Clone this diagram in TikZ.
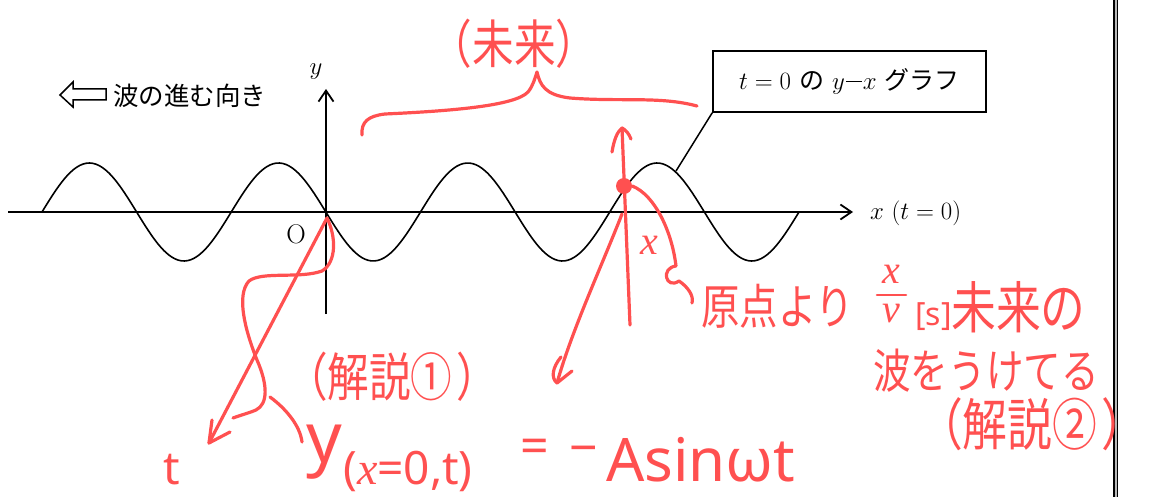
\documentclass[tikz,border=0pt]{standalone}
\usepackage{fontspec}
\newfontfamily\jpfont{Noto Sans CJK JP}
\newfontfamily\jpnarrow{Noto Sans CJK JP}[FakeStretch=0.8]
\newfontfamily\handfont{Noto Sans}
\newfontfamily\serifx{Liberation Serif}
\usetikzlibrary{arrows.meta}
\definecolor{pen}{RGB}{255,80,80}
\newcommand\fs[1]{\fontsize{#1}{#1}\selectfont}
\newcommand\hx{{\serifx\itshape x}}
\begin{document}
\begin{tikzpicture}[x=1pt,y=-1pt,
  axis/.style={line width=1.8pt,-{Straight Barb[length=11pt,width=15pt]}},
  wave/.style={line width=1.6pt},
  ink/.style={pen,line width=3.2pt,line cap=round,line join=round},
  inktext/.style={pen,inner sep=0pt},
  lbl/.style={inner sep=0pt}]
\useasboundingbox (0,0) rectangle (1151,497);
% axes
\coordinate (xs) at (8,212);
\coordinate (xe) at (853,212);
\coordinate (ys) at (326,314);
\coordinate (ye) at (326,89);
\draw[axis] (xs) -- (xe);
\draw[axis] (ys) -- (ye);
\node[lbl,anchor=west,font=\fs{25}] (xl) at (870,213) {$x\ (t=0)$};
\node[lbl,font=\fs{30}] (yl) at (316,72) {$y$};
\node[lbl,font=\fs{27}] (O) at (296,234) {O};
% wave
\draw[wave] plot[domain=42:799,samples=240,smooth] (\x,{212-49*sin(1.90225*(\x-42))});
% legend
\draw[line width=1.5pt] (60,95) -- (73,82) -- (73,89) -- (106,89) -- (106,100) -- (73,100) -- (73,107) -- cycle;
\node[lbl,anchor=west,font=\jpfont\fs{25.5}] (dir) at (113,96) {波の進む向き};
% box
\node[draw,line width=1.6pt,minimum width=273pt,minimum height=61pt,font=\fs{29}] (box) at (849.5,81.5)
  {$t=0$\hspace{8pt}{\jpfont\fs{25}の}\hspace{8pt}$y$\hspace{1pt}\raisebox{0.25em}{\rule{16pt}{1.1pt}}\hspace{1pt}$x$\hspace{8pt}{\jpfont\fs{25}グラフ}};
\coordinate (cw) at (676,171);
\draw[line width=1.5pt] (box.south west) -- (cw);
% double rule
\coordinate (vt) at (1115.5,-2);
\coordinate (vb) at (1115.5,499);
\draw[line width=1.1pt,double=gray!55,double distance=2pt] (vt) -- (vb);
% ---- red annotations ----
\node[inktext,font=\jpnarrow\fs{52}] (mirai) at (514,44) {（未来）};
\coordinate (brL) at (362,135);
\coordinate (brC) at (537,72);
\coordinate (brR) at (697,106);
\draw[ink] (brL) .. controls (361,122) and (368,116) .. (385,114)
  .. controls (450,111) and (515,106) .. (528,92)
  .. controls (533,86) and (535,78) .. (brC)
  .. controls (540,85) and (545,95) .. (570,98)
  .. controls (620,102) and (660,96) .. (brR);
% vertical arrow at x
\coordinate (va0) at (630,325);
\coordinate (va1) at (622,128);
\draw[ink] (va0) -- (va1);
\draw[ink] (612,152) .. controls (614,140) and (617,132) .. (va1) .. controls (626,130) and (629,134) .. (631,139);
\node[circle,fill=pen,minimum size=16pt,inner sep=0pt] (dot) at (624,186) {};
\node[inktext,font=\serifx\itshape\fs{40}] (xr) at (649,245) {x};
\draw[ink] (dot.east) .. controls (655,195) and (672,232) .. (676,266)
  .. controls (660,268) and (666,290) .. (679,281)
  .. controls (688,287) and (694,296) .. (692,303);
\coordinate (da0) at (622,214);
\coordinate (da) at (557,383);
\draw[ink] (da0) .. controls (600,270) and (572,330) .. (da);
\draw[ink] (561,357) .. controls (552,368) and (551,378) .. (da) -- (572,371);
% arrow from origin
\coordinate (o2) at (327,218);
\coordinate (ta) at (209,443);
\draw[ink] (o2) -- (ta);
\draw[ink] (212,420) -- (ta) -- (230,432);
\draw[ink] (o2) .. controls (336,236) and (337,262) .. (322,271)
  .. controls (300,279) and (262,271) .. (249,281)
  .. controls (236,295) and (245,330) .. (257,360)
  .. controls (268,385) and (268,404) .. (256,410)
  .. controls (249,413) and (241,415) .. (233,418);
\draw[ink] (270,397) .. controls (285,408) and (300,425) .. (302,442);
\node[inktext,font=\jpnarrow\fs{52}] (k1) at (392,377) {（解説①\hspace{4pt}）};
\node[inktext,font=\handfont\fs{46},anchor=base] (tl) at (172,484) {t};
% equation
\node[inktext,font=\handfont\fs{70},anchor=base west] (ey) at (306,462) {y};
\node[inktext,font=\handfont\fs{46},anchor=base west] (esub) at (343,484) {(\hx=0,t)};
\node[inktext,font=\handfont\fs{50}] (eeq) at (535,451) {=};
\node[inktext,font=\handfont\fs{50}] (emin) at (584,456) {−};
\node[inktext,font=\handfont\fs{60},anchor=base west] (erhs) at (606,481) {Asinωt};
% right notes
\node[inktext,font=\jpnarrow\fs{48},anchor=west] (r1) at (701,306) {原点より};
\node[inktext,font=\serifx\itshape\fs{40},anchor=base] (fx) at (891,283) {x};
\node[inktext,font=\serifx\itshape\fs{40},anchor=base] (fv) at (891,322) {v};
\coordinate (fb1) at (877,295);
\coordinate (fb2) at (906,295);
\draw[ink,line width=2.6pt] (fb1) -- (fb2);
\node[inktext,font=\handfont\fs{32},anchor=base west] (unit) at (915,325) {[s]};
\node[inktext,font=\jpnarrow\fs{56},anchor=west] (r1b) at (951,307) {未来の};
\node[inktext,font=\jpnarrow\fs{47},anchor=west] (r2) at (873,371) {波をうけてる};
\node[inktext,font=\jpnarrow\fs{56}] (k2) at (1032,424) {（解説②\hspace{4pt}）};
\end{tikzpicture}
\end{document}
